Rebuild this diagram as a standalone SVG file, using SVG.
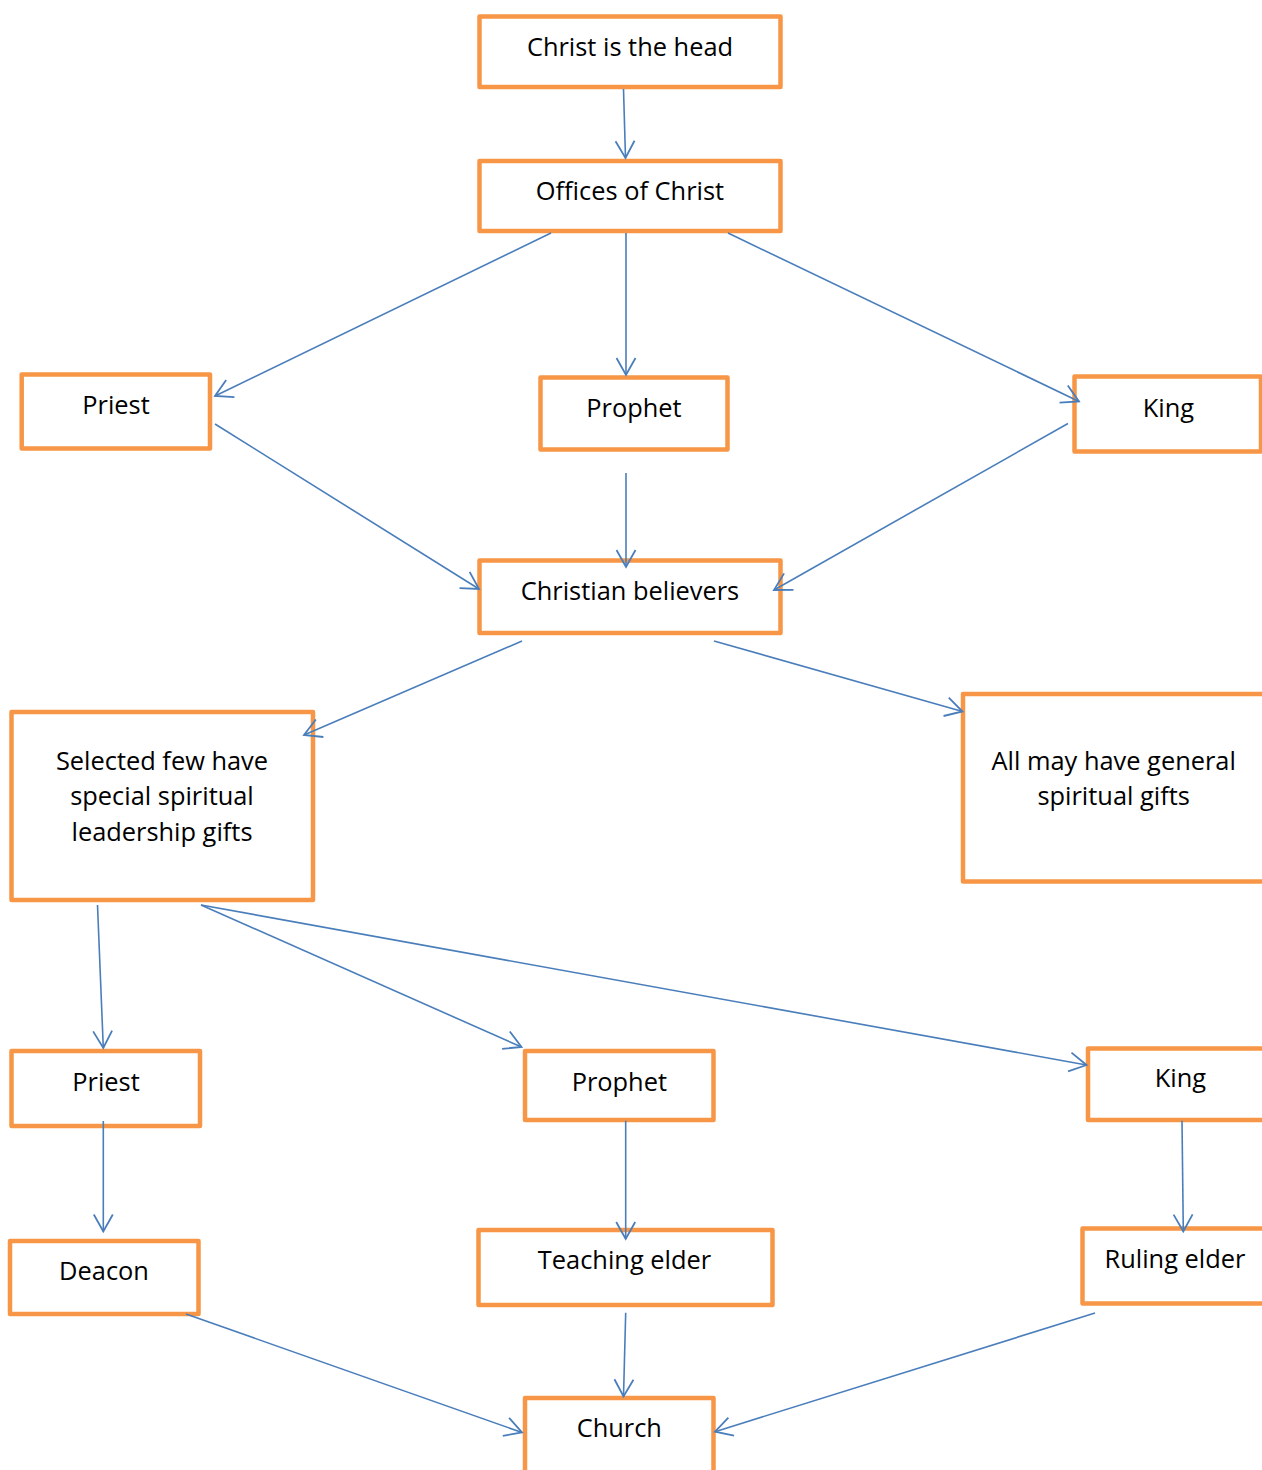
<svg xmlns="http://www.w3.org/2000/svg" width="1262" height="1470" viewBox="0 0 1262 1470">
<defs>
<style>
.box{fill:#FFFFFF;stroke:#F79646;stroke-width:4.5;stroke-linejoin:round}
.lbl{font-family:"Open Sans","Noto Sans","Liberation Sans",sans-serif;font-size:25.4px;fill:#000000;text-anchor:middle}
.con{fill:none;stroke:#4A7EBB;stroke-width:1.6;marker-end:url(#arr)}
</style>
<marker id="arr" markerUnits="userSpaceOnUse" markerWidth="40" markerHeight="40" viewBox="-20 -20 40 40" refX="0" refY="0" orient="auto">
<path d="M-17,-9.5 L0,0 L-17,9.5" fill="none" stroke="#4A7EBB" stroke-width="1.8"/>
</marker>
</defs>
<rect width="1262" height="1470" fill="#FFFFFF"/>
<g id="n-head"><rect class="box" x="479.5" y="16.5" width="301" height="70.5"/><text class="lbl" x="630" y="56">Christ is the head</text></g>
<g id="n-offices"><rect class="box" x="479.5" y="161" width="301" height="70"/><text class="lbl" x="630" y="199.5">Offices of Christ</text></g>
<g id="n-priest1"><rect class="box" x="21.7" y="374.5" width="188.3" height="74"/><text class="lbl" x="116" y="414">Priest</text></g>
<g id="n-prophet1"><rect class="box" x="540.5" y="377.5" width="187" height="72"/><text class="lbl" x="634" y="416.5">Prophet</text></g>
<g id="n-king1"><rect class="box" x="1074.5" y="376.5" width="186.5" height="75"/><text class="lbl" x="1168.5" y="417.3">King</text></g>
<g id="n-believers"><rect class="box" x="479.5" y="560.5" width="301" height="72.5"/><text class="lbl" x="630" y="600">Christian believers</text></g>
<g id="n-selected"><rect class="box" x="11.5" y="712" width="301.5" height="188"/><text class="lbl" x="162" y="770">Selected few have</text><text class="lbl" x="162" y="805.3">special spiritual</text><text class="lbl" x="162" y="840.7">leadership gifts</text></g>
<g id="n-allmay"><rect class="box" x="963" y="694" width="301.5" height="187.5"/><text class="lbl" x="1113.7" y="770">All may have general</text><text class="lbl" x="1113.7" y="805.3">spiritual gifts</text></g>
<g id="n-priest2"><rect class="box" x="11.5" y="1051" width="188.5" height="75"/><text class="lbl" x="106" y="1091">Priest</text></g>
<g id="n-prophet2"><rect class="box" x="525" y="1051" width="188.5" height="69"/><text class="lbl" x="619.3" y="1091">Prophet</text></g>
<g id="n-king2"><rect class="box" x="1088" y="1048.5" width="185" height="71.5"/><text class="lbl" x="1180.5" y="1087.3">King</text></g>
<g id="n-deacon"><rect class="box" x="10" y="1241" width="188.5" height="73"/><text class="lbl" x="104" y="1280">Deacon</text></g>
<g id="n-teaching"><rect class="box" x="478.5" y="1230" width="294" height="75"/><text class="lbl" x="624.5" y="1269.3">Teaching elder</text></g>
<g id="n-ruling"><rect class="box" x="1082.5" y="1228.5" width="185" height="75"/><text class="lbl" x="1175" y="1268.3">Ruling elder</text></g>
<g id="n-church"><rect class="box" x="525" y="1398" width="188.5" height="100"/><text class="lbl" x="619.3" y="1436.7">Church</text></g>
<g id="connectors">
<line class="con" x1="623.5" y1="89" x2="625.5" y2="158"/>
<line class="con" x1="551" y1="233" x2="215" y2="396"/>
<line class="con" x1="626" y1="233" x2="626" y2="375"/>
<line class="con" x1="728" y1="233" x2="1079" y2="401.5"/>
<line class="con" x1="215" y1="424" x2="479" y2="589"/>
<line class="con" x1="626" y1="473" x2="626" y2="567"/>
<line class="con" x1="1068" y1="423.5" x2="774" y2="590"/>
<line class="con" x1="522" y1="641" x2="304" y2="735"/>
<line class="con" x1="714" y1="641" x2="962.5" y2="711.5"/>
<line class="con" x1="97.5" y1="905" x2="103.3" y2="1048"/>
<line class="con" x1="201" y1="905" x2="521.5" y2="1047"/>
<line class="con" x1="201" y1="905" x2="1086.5" y2="1065"/>
<line class="con" x1="103.3" y1="1121" x2="103.3" y2="1231.5"/>
<line class="con" x1="625.7" y1="1120.7" x2="625.7" y2="1239"/>
<line class="con" x1="1182" y1="1120.7" x2="1183.3" y2="1231.5"/>
<line class="con" x1="186" y1="1314" x2="522" y2="1432.5"/>
<line class="con" x1="625.7" y1="1312.7" x2="623.5" y2="1396.5"/>
<line class="con" x1="1095" y1="1313" x2="715" y2="1431.7"/>
</g>
</svg>
